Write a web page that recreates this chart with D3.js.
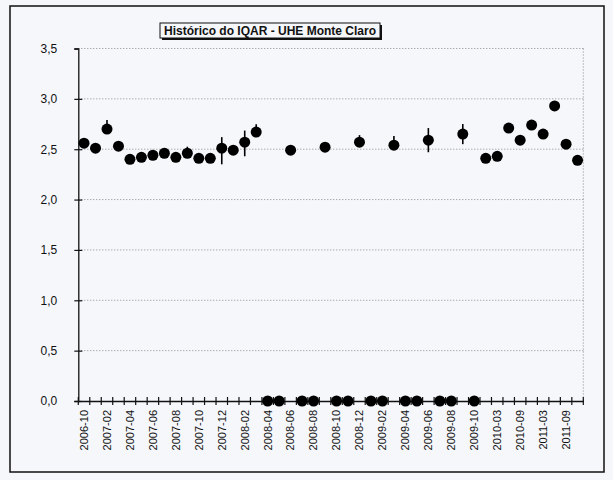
<!DOCTYPE html>
<html>
<head>
<meta charset="utf-8">
<script src="https://cdn.jsdelivr.net/npm/d3@7"></script>
<style>
  html, body { margin: 0; padding: 0; background: #f5f7fb; }
  svg { display: block; font-family: "Liberation Sans", Arial, sans-serif; }
</style>
</head>
<body>
<svg id="chart" width="613" height="480"></svg>
<script>
// Sampling campaigns (one category per campaign)
const categories = [
  "2006-10","2006-12","2007-02","2007-03","2007-04","2007-05","2007-06","2007-07",
  "2007-08","2007-09","2007-10","2007-11","2007-12","2008-01","2008-02","2008-03",
  "2008-04","2008-05","2008-06","2008-07","2008-08","2008-09","2008-10","2008-11",
  "2008-12","2009-01","2009-02","2009-03","2009-04","2009-05","2009-06","2009-07",
  "2009-08","2009-09","2009-10","2009-12","2010-03","2010-06","2010-09","2010-12",
  "2011-03","2011-06","2011-09","2011-12"
];
// Only every other category is labelled on the axis
const tickLabels = [
  "2006-10","2007-02","2007-04","2007-06","2007-08","2007-10","2007-12","2008-02",
  "2008-04","2008-06","2008-08","2008-10","2008-12","2009-02","2009-04","2009-06",
  "2009-08","2009-10","2010-03","2010-09","2011-03","2011-09"
];
// IQAR index per campaign (0 = no sample)
const iqar = [
  2.56, 2.51, 2.70, 2.53, 2.40, 2.42, 2.44, 2.46,
  2.42, 2.46, 2.41, 2.41, 2.51, 2.49, 2.57, 2.67,
  0, 0, 2.49, 0, 0, 2.52, 0, 0,
  2.57, 0, 0, 2.54, 0, 0, 2.59, 0,
  0, 2.65, 0, 2.41, 2.43, 2.71, 2.59, 2.74,
  2.65, 2.93, 2.55, 2.39
];
// Upper / lower error extents
const errPlus = [
  0.04, 0, 0.09, 0, 0, 0, 0, 0,
  0, 0.065, 0, 0, 0.11, 0.05, 0.115, 0.077,
  0, 0, 0, 0, 0, 0.05, 0, 0,
  0.07, 0, 0, 0.09, 0, 0, 0.12, 0,
  0, 0.10, 0, 0, 0, 0, 0, 0,
  0, 0, 0, 0
];
const errMinus = [
  0, 0, 0.04, 0, 0, 0, 0, 0,
  0, 0, 0, 0, 0.16, 0, 0.14, 0.03,
  0, 0, 0, 0, 0, 0, 0, 0,
  0, 0, 0, 0.04, 0, 0, 0.12, 0,
  0, 0.10, 0, 0, 0, 0, 0, 0,
  0, 0, 0, 0
];
const yTicks = [0, 0.5, 1.0, 1.5, 2.0, 2.5, 3.0, 3.5];
const titleText = "Histórico do IQAR - UHE Monte Claro";

const data = categories.map((c, i) => ({ cat: c, v: iqar[i], up: errPlus[i], dn: errMinus[i] }));

const svg = d3.select("#chart");
const plotL = 78.3, plotR = 583.3, plotT = 48.5, plotB = 401;

// Chart frame
svg.append("rect")
  .attr("x", 10).attr("y", 6).attr("width", 594).attr("height", 466)
  .attr("fill", "#f5f7fb").attr("stroke", "#111").attr("stroke-width", 1.5);

const x = d3.scaleBand().domain(categories).range([plotL, plotR]).padding(0);
const y = d3.scaleLinear().domain([0, 3.5]).range([plotB, plotT]);

// Horizontal gridlines
svg.append("g").selectAll("line").data(yTicks.filter(t => t > 0)).join("line")
  .attr("x1", plotL).attr("x2", plotR)
  .attr("y1", d => y(d)).attr("y2", d => y(d))
  .attr("stroke", "#8a8a8a").attr("stroke-width", 1).attr("stroke-dasharray", "1,2");

// Right plot edge
svg.append("line")
  .attr("x1", plotR).attr("x2", plotR).attr("y1", y(3.5)).attr("y2", y(0))
  .attr("stroke", "#8a8a8a").attr("stroke-width", 1).attr("stroke-dasharray", "1,2");

// Y axis
const fmt = d3.format(".1f");
const yAxis = svg.append("g").attr("transform", `translate(${plotL},0)`)
  .call(d3.axisLeft(y).tickValues(yTicks).tickSize(4).tickPadding(16)
    .tickFormat(d => fmt(d).replace(".", ",")));
yAxis.select(".domain").attr("stroke", "#111").attr("stroke-width", 1.3);
yAxis.selectAll(".tick line").attr("stroke", "#111").attr("stroke-width", 1.2);
yAxis.selectAll(".tick").filter(d => d < 3.5).append("line")
  .attr("x1", 0).attr("x2", 4).attr("stroke", "#111").attr("stroke-width", 1.2);
yAxis.selectAll(".tick text")
  .attr("fill", "#111").attr("font-size", 12).attr("x", -21).attr("text-anchor", "end");

// X axis
const labelSet = new Set(tickLabels);
const xAxis = svg.append("g").attr("transform", `translate(0,${plotB})`)
  .call(d3.axisBottom(x).tickSize(0).tickFormat(d => labelSet.has(d) ? d : ""));
xAxis.select(".domain").attr("stroke", "#111").attr("stroke-width", 1.3);
xAxis.selectAll(".tick text")
  .attr("fill", "#111").attr("font-size", 11)
  .attr("transform", "rotate(-90)")
  .attr("x", -9).attr("y", 0).attr("dy", "0.35em")
  .attr("text-anchor", "end");

// Cross tick marks at category boundaries
const bounds = categories.map(c => x(c)).concat([x(categories[categories.length - 1]) + x.bandwidth()]);
svg.append("g").selectAll("line").data(bounds).join("line")
  .attr("x1", d => d).attr("x2", d => d)
  .attr("y1", plotB - 4).attr("y2", plotB + 4)
  .attr("stroke", "#111").attr("stroke-width", 1.2);

const cx = d => x(d.cat) + x.bandwidth() / 2;

// Error bars
svg.append("g").selectAll("line").data(data.filter(d => d.up > 0 || d.dn > 0)).join("line")
  .attr("x1", cx).attr("x2", cx)
  .attr("y1", d => y(d.v + d.up)).attr("y2", d => y(d.v - d.dn))
  .attr("stroke", "#000").attr("stroke-width", 1.6);

// Markers
svg.append("g").selectAll("circle").data(data).join("circle")
  .attr("cx", cx).attr("cy", d => y(d.v)).attr("r", 5.5)
  .attr("fill", "#000");

// Title box with drop shadow
const tb = { x: 160, y: 23, w: 220, h: 15 };
svg.append("rect").attr("x", tb.x + 2).attr("y", tb.y + 2).attr("width", tb.w).attr("height", tb.h)
  .attr("fill", "#111");
svg.append("rect").attr("x", tb.x).attr("y", tb.y).attr("width", tb.w).attr("height", tb.h)
  .attr("fill", "#f5f7fb").attr("stroke", "#111").attr("stroke-width", 1);
svg.append("text").attr("x", tb.x + tb.w / 2).attr("y", tb.y + 11.8)
  .attr("text-anchor", "middle").attr("font-size", 12).attr("font-weight", "bold")
  .attr("fill", "#111").text(titleText);
</script>
</body>
</html>
